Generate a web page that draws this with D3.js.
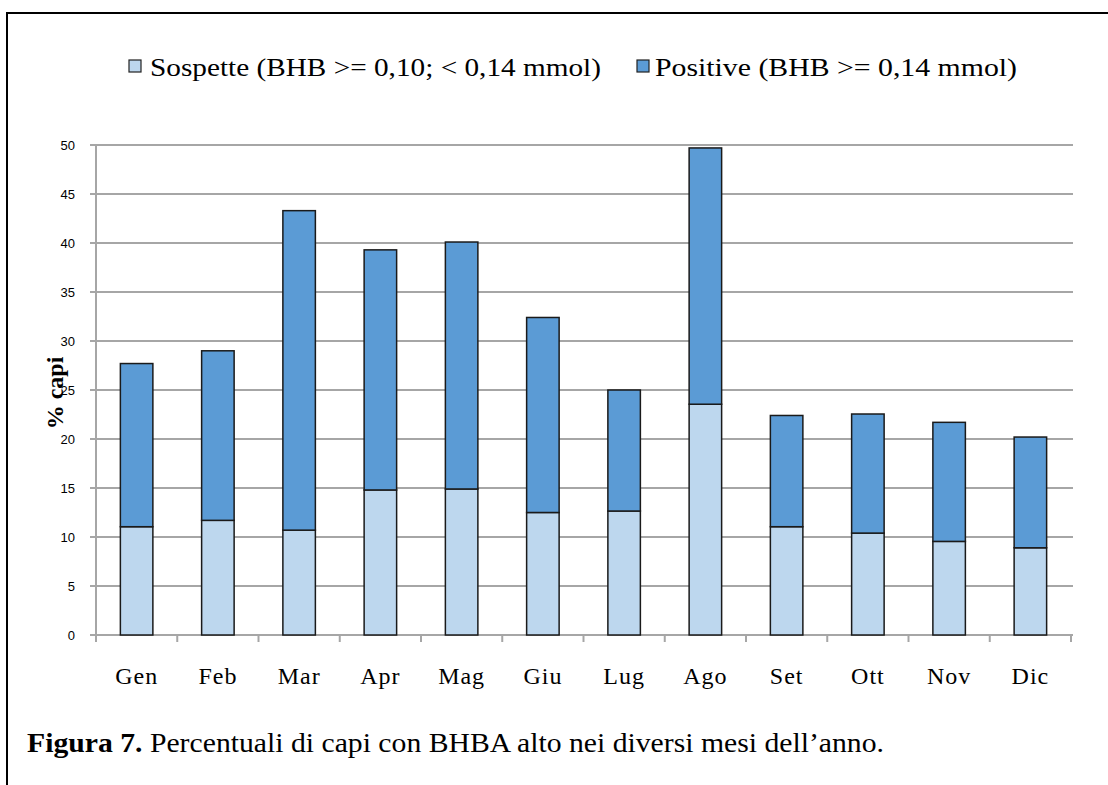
<!DOCTYPE html>
<html>
<head>
<meta charset="utf-8">
<script src="https://cdn.jsdelivr.net/npm/d3@7"></script>
<style>
  html, body { margin: 0; padding: 0; background: #fff; }
  svg { display: block; }
  .serif { font-family: 'Liberation Serif', 'Times New Roman', serif; }
  .sans { font-family: 'Liberation Sans', Arial, sans-serif; }
</style>
</head>
<body>
<svg id="chart" width="1108" height="785"></svg>
<script>
// Monthly share of animals with elevated BHB
const months = ["Gen", "Feb", "Mar", "Apr", "Mag", "Giu", "Lug", "Ago", "Set", "Ott", "Nov", "Dic"];
const sospette = [11.05, 11.7, 10.7, 14.8, 14.9, 12.5, 12.65, 23.55, 11.05, 10.4, 9.55, 8.9];
const positive = [16.65, 17.3, 32.6, 24.5, 25.2, 19.9, 12.35, 26.15, 11.35, 12.15, 12.15, 11.3];
const yTicks = [0, 5, 10, 15, 20, 25, 30, 35, 40, 45, 50];
const seriesNames = ["Sospette (BHB >= 0,10; < 0,14 mmol)", "Positive (BHB >= 0,14 mmol)"];
const seriesColors = ["#bdd7ee", "#5b9bd5"];
const yTitle = "% capi";
const captionBold = "Figura 7.";
const captionText = " Percentuali di capi con BHBA alto nei diversi mesi dell\u2019anno.";

const svg = d3.select("#chart");

// frame of the figure box
svg.append("line").attr("x1", 6).attr("x2", 1108).attr("y1", 13).attr("y2", 13)
  .attr("stroke", "#000").attr("stroke-width", 2);
svg.append("line").attr("x1", 7).attr("x2", 7).attr("y1", 12).attr("y2", 785)
  .attr("stroke", "#000").attr("stroke-width", 2);

const plot = { left: 96, right: 1071, top: 145, bottom: 635 };

const x = d3.scaleBand().domain(months)
  .range([plot.left, plot.right]).paddingInner(0.6).paddingOuter(0.3);
const y = d3.scaleLinear().domain([0, 50]).range([plot.bottom, plot.top]);

// horizontal gridlines
svg.append("g").selectAll("line").data(yTicks).join("line")
  .attr("x1", plot.left - 6).attr("x2", plot.right + 2)
  .attr("y1", d => y(d)).attr("y2", d => y(d))
  .attr("stroke", "#a6a6a6").attr("stroke-width", 2);

// y axis labels
const yAxis = d3.axisLeft(y).tickValues(yTicks).tickSize(0).tickPadding(21);
const gy = svg.append("g").attr("transform", `translate(${plot.left},0)`).call(yAxis);
gy.select(".domain").remove();
gy.selectAll("text").attr("class", "sans").attr("font-family", null)
  .attr("font-size", 13).attr("fill", "#000");

// y axis line
svg.append("line").attr("x1", plot.left).attr("x2", plot.left)
  .attr("y1", plot.top).attr("y2", plot.bottom + 6)
  .attr("stroke", "#a6a6a6").attr("stroke-width", 2);

// x axis with ticks at category boundaries
svg.append("line").attr("x1", plot.left).attr("x2", plot.right)
  .attr("y1", plot.bottom).attr("y2", plot.bottom)
  .attr("stroke", "#a6a6a6").attr("stroke-width", 2);
const step = x.step();
const bounds = d3.range(months.length + 1).map(i => plot.left + i * step);
svg.append("g").selectAll("line").data(bounds).join("line")
  .attr("x1", d => d).attr("x2", d => d)
  .attr("y1", plot.bottom).attr("y2", plot.bottom + 7)
  .attr("stroke", "#a6a6a6").attr("stroke-width", 2);

const xAxis = d3.axisBottom(x).tickSize(0).tickPadding(32);
const gx = svg.append("g").attr("transform", `translate(0,${plot.bottom})`).call(xAxis);
gx.select(".domain").remove();
gx.attr("font-family", null);
gx.selectAll("text").attr("class", "serif")
  .attr("font-size", 24).attr("letter-spacing", 1).attr("fill", "#000");

// stacked bars
const rows = months.map((m, i) => ({ month: m, sospette: sospette[i], positive: positive[i] }));
const stack = d3.stack().keys(["sospette", "positive"])(rows);
svg.append("g").selectAll("g").data(stack).join("g")
  .attr("fill", (d, i) => seriesColors[i])
  .selectAll("rect").data(d => d).join("rect")
  .attr("x", d => x(d.data.month))
  .attr("width", x.bandwidth())
  .attr("y", d => y(d[1]))
  .attr("height", d => y(d[0]) - y(d[1]))
  .attr("stroke", "#1a1a1a").attr("stroke-width", 1.5);

// y axis title
svg.append("text").attr("class", "serif")
  .attr("transform", "translate(63,393) rotate(-90)")
  .attr("text-anchor", "middle")
  .attr("font-weight", "bold").attr("font-size", 24)
  .text(yTitle);

// legend
const legendItems = [
  { sx: 129, tx: 150, w: 451 },
  { sx: 637, tx: 655, w: 362 }
];
const lg = svg.append("g");
legendItems.forEach((it, i) => {
  lg.append("rect").attr("x", it.sx).attr("y", 60).attr("width", 12).attr("height", 12)
    .attr("fill", seriesColors[i]).attr("stroke", "#222").attr("stroke-width", 1.2);
  lg.append("text").attr("class", "serif").attr("x", it.tx).attr("y", 76)
    .attr("font-size", 25).attr("fill", "#000")
    .attr("textLength", it.w).attr("lengthAdjust", "spacingAndGlyphs")
    .text(seriesNames[i]);
});

// caption
const cap = svg.append("text").attr("class", "serif").attr("x", 27).attr("y", 752)
  .attr("font-size", 28).attr("fill", "#000")
  .attr("textLength", 857).attr("lengthAdjust", "spacingAndGlyphs");
cap.append("tspan").attr("font-weight", "bold").text(captionBold);
cap.append("tspan").text(captionText);
</script>
</body>
</html>
